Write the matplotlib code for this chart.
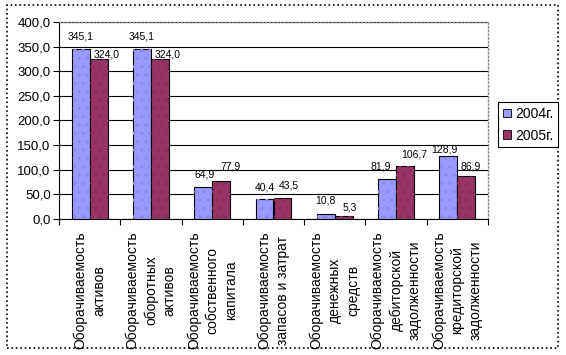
import numpy as np
import matplotlib
matplotlib.use("Agg")
import matplotlib.pyplot as plt
from matplotlib.patches import Rectangle, Patch

plt.rcParams['font.family'] = ['Liberation Sans', 'DejaVu Sans']

categories = ["Оборачиваемость\nактивов",
              "Оборачиваемость\nоборотных\nактивов",
              "Оборачиваемость\nсобственного\nкапитала",
              "Оборачиваемость\nзапасов и затрат",
              "Оборачиваемость\nденежных\nсредств",
              "Оборачиваемость\nдебиторской\nзадолженности",
              "Оборачиваемость\nкредиторской\nзадолженности"]
v2004 = [345.1, 345.1, 64.9, 40.4, 10.8, 81.9, 128.9]
v2005 = [324.0, 324.0, 77.9, 43.5, 5.3, 106.7, 86.9]
series_names = ["2004г.", "2005г."]
yticks = np.arange(0, 401, 50)

# label nudges (pixels) to mimic where excel put them
dx04 = [0, 0, 1, 0, 0, -6, -4]
dy04 = [13, 13, 13, 12, 13, 12, 6]
dx05 = [8, 8, 9, 6, 6, 9, 4]
dy05 = [5, 5, 14, 12, 9, 12, 10]

W, H = 566, 355
fig = plt.figure(figsize=(W / 100, H / 100), dpi=100)
ax = fig.add_axes([59 / W, 1 - 219 / H, (488 - 59) / W, (219 - 22) / H])

x = np.arange(len(categories))
w = 0.293
c04, c05 = '#9999FF', '#993366'
b1 = ax.bar(x - w / 2, v2004, w, color=c04, edgecolor='black', lw=0.8, zorder=3)
b2 = ax.bar(x + w / 2, v2005, w, color=c05, edgecolor='black', lw=0.8, zorder=3)
# faint dotted texture
ax.bar(x - w / 2, v2004, w, fill=False, edgecolor='#8a8ae8', lw=0, hatch='..', zorder=4)
ax.bar(x + w / 2, v2005, w, fill=False, edgecolor='#85305c', lw=0, hatch='..', zorder=4)

for i in range(len(x)):
    ax.annotate(f"{v2004[i]:.1f}".replace('.', ','), (x[i] - w / 2, v2004[i]),
                xytext=(dx04[i], dy04[i]), textcoords='offset pixels',
                ha='center', va='center', fontsize=7.5)
    ax.annotate(f"{v2005[i]:.1f}".replace('.', ','), (x[i] + w / 2, v2005[i]),
                xytext=(dx05[i], dy05[i]), textcoords='offset pixels',
                ha='center', va='center', fontsize=7.5)

ax.set_xlim(-0.5, len(x) - 0.5)
ax.set_ylim(0, 400)
ax.set_yticks(yticks)
ax.set_yticklabels([f"{t:.1f}".replace('.', ',') for t in yticks], fontsize=9.5)
ax.tick_params(axis='y', direction='out', length=4, width=0.8, pad=2)

ax.set_xticks(np.arange(-0.5, len(x), 1))
ax.set_xticklabels([])
ax.tick_params(axis='x', which='major', direction='out', length=4, width=0.8)
ax.set_xticks(x, minor=True)
ax.set_xticklabels(categories, minor=True, rotation=90, ha='center', va='top',
                   multialignment='center', fontsize=10, linespacing=1.4)
ax.tick_params(axis='x', which='minor', length=0, pad=9)

ax.yaxis.grid(True, color='black', lw=0.8, zorder=0)
ax.set_axisbelow(True)
for s in ['top', 'right']:
    ax.spines[s].set_color('#888888')
    ax.spines[s].set_linestyle(':')
    ax.spines[s].set_linewidth(1)
ax.spines['left'].set_linewidth(0.8)
ax.spines['bottom'].set_linewidth(0.8)

handles = [Patch(facecolor=c04, edgecolor='black', lw=0.6),
           Patch(facecolor=c05, edgecolor='black', lw=0.6)]
leg = fig.legend(handles, series_names, loc='upper left',
                 bbox_to_anchor=(498 / W, 1 - 102 / H), fontsize=10,
                 handlelength=0.6, handleheight=0.6, handletextpad=0.3,
                 borderpad=0.35, labelspacing=0.55, borderaxespad=0,
                 fancybox=False, framealpha=1)
leg.get_frame().set_edgecolor('black')
leg.get_frame().set_linewidth(0.8)

# outer chart border
fig.patches.append(Rectangle((7 / W, 1 - 348 / H), (558 - 7) / W, (348 - 5) / H,
                             transform=fig.transFigure, fill=False,
                             edgecolor='black', lw=1.2, ls=':'))

fig.savefig('out.png', dpi=100)
